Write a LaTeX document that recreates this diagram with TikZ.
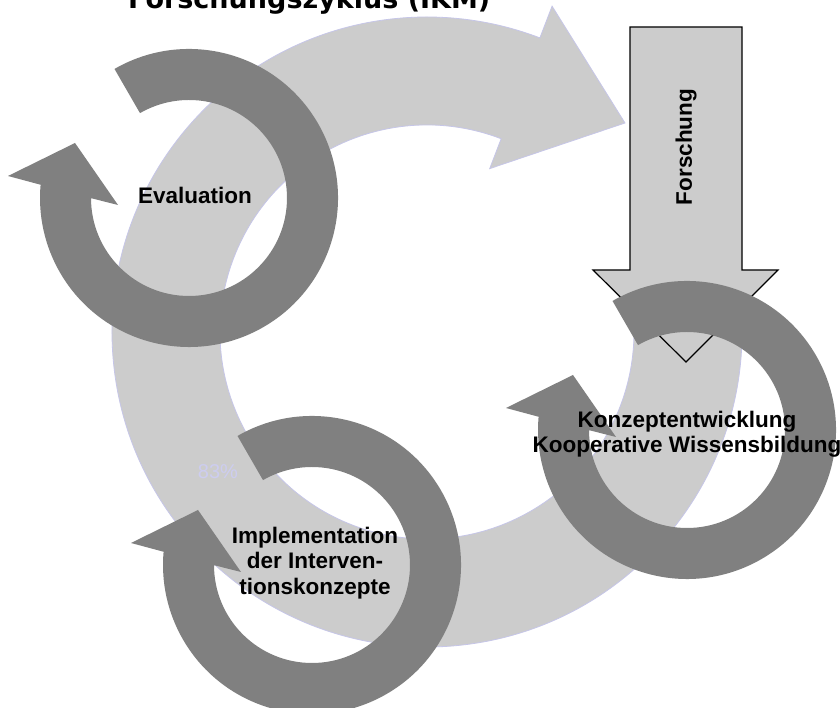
\documentclass[tikz,border=0pt]{standalone}
\usepackage{fontspec}
\setmainfont{Liberation Sans}
\newfontfamily\titlefont{DejaVu Sans}
\definecolor{darkring}{RGB}{128,128,128}
\definecolor{lightband}{RGB}{204,204,204}
\definecolor{bandedge}{RGB}{198,198,232}
\definecolor{pctcol}{RGB}{205,205,240}
\begin{document}
\begin{tikzpicture}[x=1pt,y=1pt,
  band/.style={fill=lightband, draw=bandedge, line width=0.8pt},
  downarrow/.style={fill=lightband, draw=black, line width=1.2pt, line join=miter},
  lbl/.style={font=\bfseries\fontsize{22.5}{25.5}\selectfont, align=center, text=black, inner sep=0pt},
  ringarrow/.pic={
    \fill[darkring] (120:149) arc[start angle=120, end angle=-185.1, radius=149]
      -- (-181,22) -- (-114,55) -- (-71,-7) -- (-179.9:98)
      arc[start angle=-179.9, end angle=120, radius=98] -- cycle;
  }]
\useasboundingbox (0,0) rectangle (840,708);
\clip (0,0) rectangle (840,708);
\fill[white] (0,0) rectangle (840,708);

% title (cut off at top)
\node[anchor=base west, inner sep=0pt, font=\titlefont\bfseries\fontsize{27}{32}\selectfont] (title) at (128,699) {Forschungszyklus (IKM)};

% big light circular arrow
\begin{scope}[shift={(427,376)}]
  \path[band] (5:315) arc[start angle=5, end angle=-291, radius=315]
    -- (-291:349) -- (198,209) -- (-291:175) -- (-291:207)
    arc[start angle=-291, end angle=5, radius=207] -- cycle;
\end{scope}

% Forschung arrow
\path[downarrow] (630,681) -- (742,681) -- (742,438) -- (778,438) -- (686,346)
  -- (593,438) -- (630,438) -- cycle;
\node[lbl, rotate=90] (forschung) at (686,561) {Forschung};

% dark ring arrows
\pic (evalring) at (189,510) {ringarrow};
\pic (implring) at (312,143) {ringarrow};
\pic (konzring) at (687,278) {ringarrow};

% labels
\node[font=\fontsize{20}{24}\selectfont, text=pctcol, inner sep=0pt] (pct) at (218,236) {83\%};
\node[lbl] (evaluation) at (195,513) {Evaluation};
\node[lbl] (implementation) at (315,145) {Implementation\\der Interven-\\tionskonzepte};
\node[lbl] (konzept) at (687,274) {Konzeptentwicklung\\Kooperative Wissensbildung};
\end{tikzpicture}
\end{document}
